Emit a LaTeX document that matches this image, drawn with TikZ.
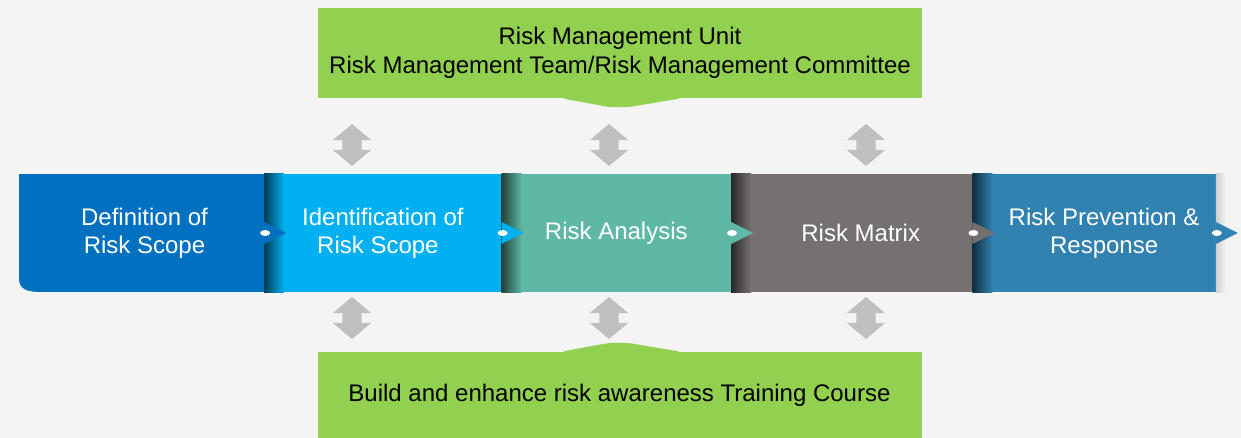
\documentclass[tikz,border=0pt]{standalone}
\usepackage{fontspec}
\setmainfont{Liberation Sans}
\usetikzlibrary{chains,positioning,shapes.arrows}

\definecolor{bgray}{HTML}{F4F4F4}
\definecolor{stepone}{HTML}{0070C0}
\definecolor{steptwo}{HTML}{00B0F0}
\definecolor{stepthree}{HTML}{5EB8A5}
\definecolor{stepfour}{HTML}{767171}
\definecolor{stepfive}{HTML}{3182B0}
\definecolor{unitgreen}{HTML}{92D050}
\definecolor{arrgray}{HTML}{BFBFBF}

\begin{document}
\begin{tikzpicture}[
x=1pt,y=-1pt,
stage/.style={
  text=white,
  minimum height=118pt,
  inner sep=0pt,
  align=center,
  font=\fontsize{24}{28}\selectfont
},
banner/.style={
  fill=unitgreen,
  minimum width=604pt,
  inner sep=0pt,
  align=center,
  font=\fontsize{24}{29}\selectfont
},
updown/.style={
  shape=double arrow,
  rotate=90,
  fill=arrgray,
  inner xsep=0pt,
  inner ysep=9.5pt,
  minimum height=42pt,
  minimum width=38pt,
  double arrow head extend=9.5pt,
  double arrow tip angle=100
},
start chain=1 going right,node distance=0pt
]
\fill[bgray] (0,0) rectangle (1241,438);
\useasboundingbox (0,0) rectangle (1241,438);

\node[on chain=1,stage,fill=stepone,minimum width=245pt] at (141.5,233)
  (b1) {\hspace*{6pt}Definition of\\\hspace*{6pt}Risk Scope};
\node[on chain=1,stage,fill=steptwo,minimum width=237pt]
  (b2) {Identification of\\Risk Scope\hspace*{10pt}};
\node[on chain=1,stage,fill=stepthree,minimum width=229pt]
  (b3) {\raisebox{-4pt}{Risk Analysis}};
\node[on chain=1,stage,fill=stepfour,minimum width=241pt]
  (b4) {\hspace*{18pt}Risk Matrix};
\node[on chain=1,stage,fill=stepfive,minimum width=243pt]
  (b5) {\hspace*{20pt}Risk Prevention \&\\\hspace*{20pt}Response};

% rounded corner of the first step
\fill[bgray] (b1.south west) -- ([xshift=26pt]b1.south west)
  .. controls ([xshift=6pt]b1.south west) and ([yshift=3pt]b1.south west) ..
  ([yshift=15pt]b1.south west) -- cycle;

% shadows
\foreach \b/\c in {b2/steptwo,b3/stepthree,b4/stepfour,b5/stepfive}
  \shade[left color=black!65!\c,right color=\c] (\b.north west) rectangle ([xshift=20pt]\b.south west);
\shade[left color=black!15!bgray,right color=bgray] (b5.north east) rectangle ([xshift=10pt]b5.south east);

% tabs
\foreach \b/\c in {b1/stepone,b2/steptwo,b3/stepthree,b4/stepfour,b5/stepfive}{
  \fill[\c] ([yshift=11pt]\b.east) -- ([xshift=22pt]\b.east) -- ([yshift=-11pt]\b.east) -- cycle;
  \fill[white] ([xshift=1pt]\b.east) ellipse (5pt and 3pt);
}

\node[banner,minimum height=90pt] at (620,53)
  (unit) {Risk Management Unit\\Risk Management Team/Risk Management Committee};
\fill[unitgreen,rounded corners=5pt] ([xshift=-59pt]unit.south) -- ([xshift=-10pt,yshift=-9pt]unit.south)
  -- ([xshift=8pt,yshift=-9pt]unit.south) -- ([xshift=62pt]unit.south) -- cycle;

\node[banner,minimum height=86pt] at (619.5,395)
  (course) {Build and enhance risk awareness Training Course};
\fill[unitgreen,rounded corners=5pt] ([xshift=-59pt]course.north) -- ([xshift=-10pt,yshift=9pt]course.north)
  -- ([xshift=8pt,yshift=9pt]course.north) -- ([xshift=62pt]course.north) -- cycle;

\foreach \x [count=\i] in {352,609,866}{
  \node[updown] (up\i) at (\x,145) {};
  \node[updown] (dn\i) at (\x,318) {};
}
\end{tikzpicture}
\end{document}
